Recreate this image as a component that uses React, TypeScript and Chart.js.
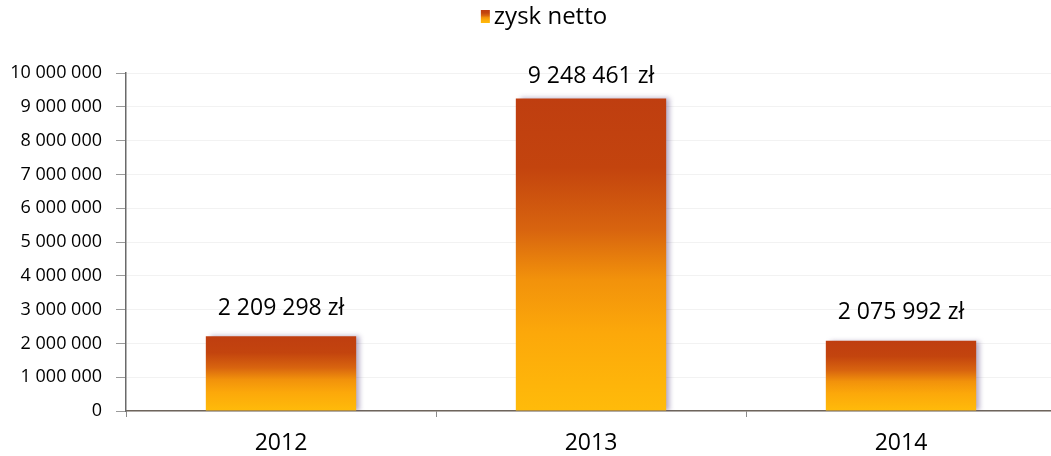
import React, { useEffect, useRef } from "react";
import { Chart, registerables } from "chart.js";

Chart.register(...registerables);

const categories = ["2012", "2013", "2014"];
const seriesName = "zysk netto";
const netProfit = [2209298, 9248461, 2075992];
const currency = "zł";
const yMin = 0;
const yMax = 10000000;
const yStep = 1000000;

const FONT = "'Open Sans', 'Noto Sans', sans-serif";

const fmt = (n: number) =>
  String(Math.round(n)).replace(/\B(?=(\d{3})+(?!\d))/g, " ");

function barGradient(c: CanvasRenderingContext2D, top: number, base: number) {
  const g = c.createLinearGradient(0, top, 0, base);
  g.addColorStop(0, "#bf3e10");
  g.addColorStop(0.22, "#c3440e");
  g.addColorStop(0.42, "#d8640f");
  g.addColorStop(0.58, "#f2920b");
  g.addColorStop(0.75, "#fca80a");
  g.addColorStop(1, "#ffbb0a");
  return g;
}

const shadowPlugin = {
  id: "barShadow",
  beforeDatasetsDraw(chart: any) {
    const c = chart.ctx;
    c.save();
    c.shadowColor = "rgba(90, 70, 130, 0.45)";
    c.shadowOffsetX = 4;
    c.shadowOffsetY = 0;
    c.shadowBlur = 5;
  },
  afterDatasetsDraw(chart: any) {
    chart.ctx.restore();
  },
};

const labelPlugin = {
  id: "valueLabels",
  afterDatasetsDraw(chart: any) {
    const c = chart.ctx;
    const meta = chart.getDatasetMeta(0);
    const top = chart.chartArea.top;
    c.save();
    c.font = `23px ${FONT}`;
    c.fillStyle = "#000000";
    c.textAlign = "center";
    c.textBaseline = "middle";
    meta.data.forEach((bar: any, i: number) => {
      const v = chart.data.datasets[0].data[i] as number;
      const y = Math.max(bar.y - 28, top + 3);
      c.fillText(`${fmt(v)} ${currency}`, bar.x, y);
    });
    c.restore();
  },
};

const legendPlugin = {
  id: "customLegend",
  afterDraw(chart: any) {
    const c = chart.ctx;
    c.save();
    c.font = `24px ${FONT}`;
    const text = chart.data.datasets[0].label as string;
    const tw = c.measureText(text).width;
    const box = 9;
    const gap = 4;
    const total = box + gap + tw;
    const cx = 544;
    const x0 = cx - total / 2;
    const y = 17;
    c.fillStyle = barGradient(c, y - 7, y + 6);
    c.fillRect(x0, y - 7, box, 13);
    c.fillStyle = "#000000";
    c.textAlign = "left";
    c.textBaseline = "middle";
    c.fillText(text, x0 + box + gap, y);
    c.restore();
  },
};

export default function App() {
  const ref = useRef<HTMLCanvasElement | null>(null);

  useEffect(() => {
    document.body.style.margin = "0";
    const canvas = ref.current!;
    const chart = new Chart(canvas, {
      type: "bar",
      data: {
        labels: categories,
        datasets: [
          {
            label: seriesName,
            data: netProfit,
            backgroundColor: (ctx: any) => {
              const ch = ctx.chart;
              if (!ch.chartArea || ctx.type !== "data") return "#e07010";
              const ys = ch.scales.y;
              const v = netProfit[ctx.dataIndex];
              return barGradient(ch.ctx, ys.getPixelForValue(v), ys.getPixelForValue(0));
            },
            borderWidth: 0,
            barPercentage: 0.485,
            categoryPercentage: 1,
          },
        ],
      },
      options: {
        responsive: false,
        animation: false,
        layout: { padding: { top: 73, right: 4, bottom: 0, left: 0 } },
        plugins: {
          legend: { display: false },
          tooltip: { enabled: false },
        },
        scales: {
          x: {
            offset: true,
            grid: {
              offset: true,
              drawOnChartArea: false,
              drawTicks: true,
              tickLength: 6,
              tickColor: "#8a8a8a",
            },
            border: { display: true, color: "#6e655c", width: 1.5 },
            ticks: {
              color: "#000000",
              font: { family: FONT, size: 23 },
              padding: 13,
            },
            afterFit: (s: any) => {
              s.height = 45;
            },
          },
          y: {
            min: yMin,
            max: yMax,
            ticks: {
              stepSize: yStep,
              color: "#000000",
              font: { family: FONT, size: 18 },
              padding: 14,
              callback: (v: any) => fmt(Number(v)),
            },
            grid: {
              color: "rgba(0,0,0,0.05)",
              drawTicks: true,
              tickLength: 10,
              tickColor: "#9a9a9a",
            },
            border: { display: true, color: "#6a6a6a", width: 1.5 },
            afterFit: (s: any) => {
              s.width = 126;
            },
          },
        },
      },
      plugins: [shadowPlugin, labelPlugin, legendPlugin],
    });
    return () => chart.destroy();
  }, []);

  return (
    <div style={{ width: 1051, height: 456, overflow: "hidden", background: "#ffffff" }}>
      <canvas ref={ref} width={1060} height={456} style={{ display: "block" }} />
    </div>
  );
}
